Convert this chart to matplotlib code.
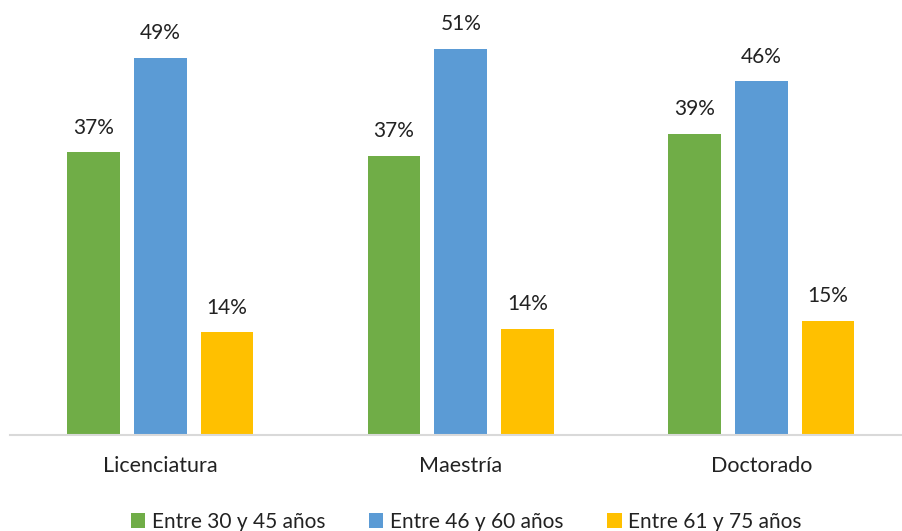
import matplotlib
matplotlib.use("Agg")
import matplotlib.pyplot as plt
import numpy as np

categories = ["Licenciatura", "Maestría", "Doctorado"]
series_names = ["Entre 30 y 45 años", "Entre 46 y 60 años", "Entre 61 y 75 años"]
vals_30_45 = [37.2, 36.7, 39.6]
vals_46_60 = [49.6, 50.8, 46.5]
vals_61_75 = [13.5, 14.0, 15.0]
labels_30_45 = ["37%", "37%", "39%"]
labels_46_60 = ["49%", "51%", "46%"]
labels_61_75 = ["14%", "14%", "15%"]
colors = ["#70AD47", "#5B9BD5", "#FFC000"]

plt.rcParams['font.family'] = ['Lato', 'DejaVu Sans']

fig = plt.figure(figsize=(9.02, 5.31), dpi=100)
ax = fig.add_axes([10/902, 1 - 435/531, 901.5/902, 435/531])

x = np.arange(len(categories))
width = 0.175
step = 0.222
series = [vals_30_45, vals_46_60, vals_61_75]
labels = [labels_30_45, labels_46_60, labels_61_75]
for i, (vals, labs, c, name) in enumerate(zip(series, labels, colors, series_names)):
    bars = ax.bar(x + (i - 1) * step, vals, width, color=c, label=name)
    for b, lab in zip(bars, labs):
        ax.annotate(lab, (b.get_x() + b.get_width() / 2, b.get_height()),
                    xytext=(0, 10.5), textcoords="offset points",
                    ha="center", va="bottom", fontsize=15, color="#222222")

ax.set_xlim(-0.5, 2.5)
ax.set_ylim(0, 57.2)
ax.set_xticks(x)
ax.set_xticklabels(categories, fontsize=15.5, color="#222222")
ax.tick_params(axis='x', length=0, pad=15)
ax.set_yticks([])
for s in ["top", "right", "left"]:
    ax.spines[s].set_visible(False)
ax.spines["bottom"].set_color("#D9D9D9")
ax.spines["bottom"].set_linewidth(1.5)

fig.legend(loc="center", bbox_to_anchor=(466/902, 1 - 522/531), ncol=3, frameon=False,
           fontsize=15, handlelength=0.7, handleheight=0.7, handletextpad=0.3,
           columnspacing=2.1, labelcolor="#222222")

fig.savefig("out.png", dpi=100)
